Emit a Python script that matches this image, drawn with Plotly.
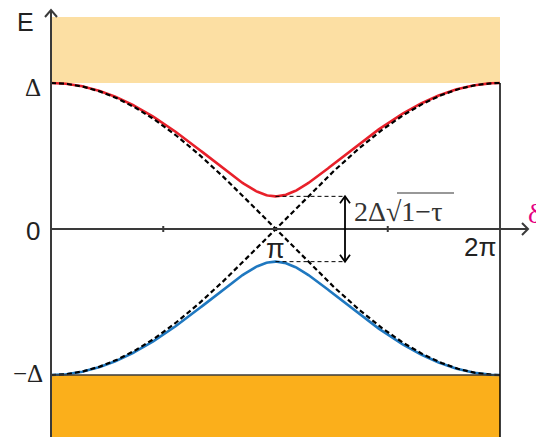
import numpy as np
import plotly.graph_objects as go

# phase difference and Andreev bound state energies (in units of Delta)
delta = np.linspace(0, 2 * np.pi, 301)
tau = 0.95                      # transmission read from the gap at delta = pi
gap_half = np.sqrt(1 - tau)     # E(pi) / Delta

e_plus = np.sqrt(1 - tau * np.sin(delta / 2) ** 2)
e_minus = -e_plus
e_ballistic_a = np.cos(delta / 2)     # tau = 1
e_ballistic_b = -np.cos(delta / 2)

x_ticks = [np.pi / 2, 3 * np.pi / 2]

W, H = 536, 437
X0, X2PI = 51, 500          # pixel columns for delta = 0 and 2pi
Y0, YD = 229, 83            # pixel rows for E = 0 and E = Delta
kx = (X2PI - X0) / (2 * np.pi)
ky = (Y0 - YD)


def px(x):
    return (x - X0) / kx


def py(y):
    return (Y0 - y) / ky


AXIS = '#3a3a3a'
RED = '#e8202a'
BLUE = '#1f78c0'

fig = go.Figure()

for y, c in [(e_plus, RED), (e_minus, BLUE)]:
    fig.add_trace(go.Scatter(x=delta, y=y, mode='lines',
                             line=dict(color=c, width=2.6)))
for y in [e_ballistic_a, e_ballistic_b]:
    fig.add_trace(go.Scatter(x=delta, y=y, mode='lines',
                             line=dict(color='black', width=2.2, dash='5px,3px')))

shapes = [
    # continuum bands
    dict(type='rect', x0=0, x1=2 * np.pi, y0=1, y1=py(17),
         fillcolor='#fcdfa3', line=dict(width=0), layer='below'),
    dict(type='rect', x0=0, x1=2 * np.pi, y0=py(H + 5), y1=-1,
         fillcolor='#fbaf1b', line=dict(width=0), layer='below'),
    dict(type='line', x0=0, x1=2 * np.pi, y0=-1, y1=-1,
         line=dict(color=AXIS, width=1.5)),
    # right edge at 2pi
    dict(type='line', x0=2 * np.pi, x1=2 * np.pi, y0=1, y1=py(H + 5),
         line=dict(color='black', width=1.5)),
    # axes
    dict(type='line', x0=0, x1=0, y0=py(H + 5), y1=py(10),
         line=dict(color=AXIS, width=2)),
    dict(type='line', x0=0, x1=px(528), y0=0, y1=0,
         line=dict(color=AXIS, width=2)),
    dict(type='path', path=f'M {px(45)} {py(17)} L 0 {py(10)} L {px(57)} {py(17)}',
         line=dict(color=AXIS, width=2)),
    dict(type='path', path=f'M {px(522)} {py(223)} L {px(528)} 0 L {px(522)} {py(235)}',
         line=dict(color=AXIS, width=2)),
    # gap markers
    dict(type='line', x0=np.pi, x1=px(345), y0=gap_half, y1=gap_half,
         line=dict(color='black', width=1, dash='4px,3px')),
    dict(type='line', x0=np.pi, x1=px(345), y0=-gap_half, y1=-gap_half,
         line=dict(color='black', width=1, dash='4px,3px')),
    dict(type='line', x0=px(345), x1=px(345), y0=-gap_half, y1=gap_half,
         line=dict(color='black', width=1.8)),
    dict(type='path',
         path=f'M {px(340)} {gap_half - 7 / ky} L {px(345)} {gap_half} L {px(350)} {gap_half - 7 / ky}',
         line=dict(color='black', width=1.8)),
    dict(type='path',
         path=f'M {px(340)} {-gap_half + 7 / ky} L {px(345)} {-gap_half} L {px(350)} {-gap_half + 7 / ky}',
         line=dict(color='black', width=1.8)),
    # sqrt overline
    dict(type='line', x0=px(397), x1=px(454), y0=py(193), y1=py(193),
         line=dict(color='#333', width=1.2)),
]
for t in x_ticks:
    shapes.append(dict(type='line', x0=t, x1=t, y0=py(226), y1=py(232),
                       line=dict(color=AXIS, width=2)))

SANS = 'Liberation Sans, Arial, sans-serif'
SERIF = 'Liberation Serif, Times New Roman, serif'


def label(text, x, y, size, family, color='#222', xanchor='center'):
    return dict(text=text, x=px(x), y=py(y), xref='x', yref='y',
                showarrow=False, xanchor=xanchor, yanchor='middle',
                font=dict(size=size, family=family, color=color))


annotations = [
    label('E', 25, 22, 25, SANS),
    label('Δ', 33, 87, 25, SERIF),
    label('0', 33, 231, 26, SANS),
    label('−Δ', 28, 373, 25, SERIF),
    label('π', 275, 249, 27, SANS),
    label('2π', 480, 247, 26, SANS),
    label('δ', 526, 213, 28, SERIF, color='#e4007f', xanchor='left'),
    label('2Δ√1−τ', 352, 211, 28, SERIF, color='#333', xanchor='left'),
]

fig.update_layout(
    width=W, height=H,
    margin=dict(l=0, r=0, t=0, b=0),
    paper_bgcolor='white', plot_bgcolor='white',
    showlegend=False,
    xaxis=dict(range=[px(0), px(W)], visible=False, fixedrange=True),
    yaxis=dict(range=[py(H), py(0)], visible=False, fixedrange=True),
    shapes=shapes,
    annotations=annotations,
)

fig.write_html('out.html', config={'displayModeBar': False},
               post_script="document.body.style.margin='0';")
